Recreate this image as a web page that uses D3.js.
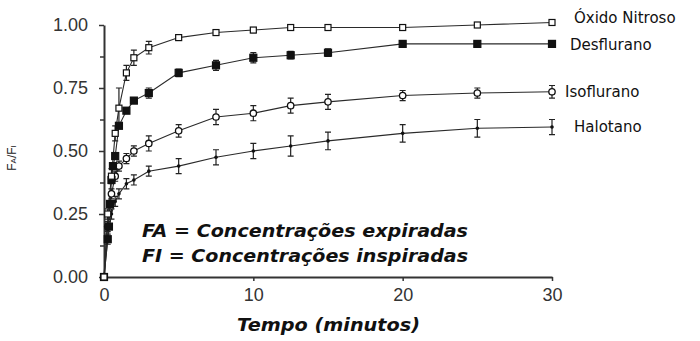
<!DOCTYPE html>
<html>
<head>
<meta charset="utf-8">
<script src="https://cdn.jsdelivr.net/npm/d3@7"></script>
<style>
  body { margin: 0; background: #fff; }
  svg { display: block; }
</style>
</head>
<body>
<div id="chart"></div>
<script>
// values (FA/FI against minutes)
let n2oTime = [0, 0.25, 0.5, 0.75, 1, 1.5, 2, 3, 5, 7.5, 10, 12.5, 15, 20, 25, 30]
let n2oValue = [0, 0.25, 0.4, 0.57, 0.67, 0.81, 0.87, 0.91, 0.95, 0.97, 0.98, 0.99, 0.99, 0.99, 1.0, 1.01]
let n2oErr = [0, 0.02, 0.03, 0.03, 0.08, 0.03, 0.03, 0.025, 0.01, 0.01, 0.01, 0.01, 0.01, 0.01, 0.01, 0.01]

let desTime = [0, 0.25, 0.33, 0.4, 0.5, 0.6, 0.75, 1, 1.5, 2, 3, 5, 7.5, 10, 12.5, 15, 20, 25, 30]
let desValue = [0, 0.15, 0.2, 0.29, 0.385, 0.44, 0.48, 0.6, 0.66, 0.7, 0.73, 0.81, 0.84, 0.87, 0.88, 0.89, 0.925, 0.925, 0.925]
let desErr = [0, 0.01, 0.01, 0.01, 0.01, 0.01, 0.01, 0.01, 0.01, 0.01, 0.02, 0.015, 0.02, 0.02, 0.015, 0.015, 0.01, 0.01, 0.01]

let isoTime = [0, 0.25, 0.5, 0.75, 1, 1.5, 2, 3, 5, 7.5, 10, 12.5, 15, 20, 25, 30]
let isoValue = [0, 0.2, 0.33, 0.4, 0.44, 0.47, 0.5, 0.53, 0.58, 0.635, 0.65, 0.68, 0.695, 0.72, 0.73, 0.735]
let isoErr = [0, 0.02, 0.02, 0.02, 0.02, 0.02, 0.02, 0.03, 0.025, 0.03, 0.03, 0.03, 0.03, 0.02, 0.02, 0.025]

let halTime = [0, 0.25, 0.5, 0.75, 1, 1.5, 2, 3, 5, 7.5, 10, 12.5, 15, 20, 25, 30]
let halValue = [0, 0.15, 0.25, 0.3, 0.33, 0.37, 0.385, 0.42, 0.44, 0.475, 0.5, 0.52, 0.54, 0.57, 0.59, 0.595]
let halErr = [0, 0.02, 0.02, 0.02, 0.02, 0.02, 0.02, 0.02, 0.03, 0.03, 0.03, 0.04, 0.035, 0.035, 0.035, 0.03]

let seriesNames = ['Halotano', 'Isoflurano', 'Desflurano', 'Óxido Nitroso']
let yTicks = [0, 0.25, 0.5, 0.75, 1]
let yMinorTicks = [0.125, 0.375, 0.625, 0.875]
let xTicks = [0, 10, 20, 30]

let width = 700
let height = 341

let svg = d3
  .select('#chart')
  .append('svg')
  .attr('width', width)
  .attr('height', height)

let x = d3.scaleLinear().domain([0, 30]).range([104, 552])
let y = d3.scaleLinear().domain([0, 1]).range([277, 25])

// series table built from the arrays above
let series = [
  { name: seriesNames[0], t: halTime, v: halValue, e: halErr, marker: 'dot', dx: 22, dy: 0 },
  { name: seriesNames[1], t: isoTime, v: isoValue, e: isoErr, marker: 'circle', dx: 13, dy: 0 },
  { name: seriesNames[2], t: desTime, v: desValue, e: desErr, marker: 'fsquare', dx: 18, dy: 1 },
  { name: seriesNames[3], t: n2oTime, v: n2oValue, e: n2oErr, marker: 'osquare', dx: 22, dy: -5 }
].map(s => {
  s.points = s.t.map((t, i) => ({ t: t, v: s.v[i], e: s.e[i] }))
  return s
})

// axes
svg
  .append('g')
  .attr('transform', `translate(${x(0)},0)`)
  .call(
    d3.axisLeft(y)
      .tickValues(yTicks)
      .tickFormat(d3.format('.2f'))
      .tickSize(5)
      .tickSizeOuter(0)
      .tickPadding(11)
  )

svg
  .append('g')
  .attr('transform', `translate(${x(0)},0)`)
  .call(d3.axisLeft(y).tickValues(yMinorTicks).tickFormat('').tickSize(4).tickSizeOuter(0))
  .select('.domain')
  .remove()

svg
  .append('g')
  .attr('transform', `translate(0,${y(0)})`)
  .call(
    d3.axisBottom(x)
      .tickValues(xTicks)
      .tickSize(4)
      .tickSizeOuter(0)
      .tickPadding(7)
  )

svg.selectAll('.domain').attr('stroke', '#333').attr('stroke-width', 2)
svg.selectAll('.tick line').attr('stroke', '#333').attr('stroke-width', 1.5)
svg
  .selectAll('.tick text')
  .attr('fill', '#333')
  .style('font-family', '"Liberation Sans", Arial, sans-serif')
  .style('font-size', '18px')

// lines
let line = d3
  .line()
  .x(d => x(d.t))
  .y(d => y(d.v))

svg
  .selectAll('.series-line')
  .data(series)
  .enter()
  .append('path')
  .attr('class', 'series-line')
  .attr('d', d => line(d.points))
  .attr('fill', 'none')
  .attr('stroke', '#2a2a2a')
  .attr('stroke-width', 1.1)

// error bars
series.forEach(s => {
  let g = svg.append('g').attr('class', 'errors')
  let pts = s.points.filter(d => d.e > 0)
  g.selectAll('.bar')
    .data(pts)
    .enter()
    .append('path')
    .attr('d', d => {
      let cx = x(d.t)
      let y1 = y(d.v + d.e)
      let y2 = y(d.v - d.e)
      return `M${cx},${y1}V${y2}M${cx - 3},${y1}H${cx + 3}M${cx - 3},${y2}H${cx + 3}`
    })
    .attr('fill', 'none')
    .attr('stroke', '#222')
    .attr('stroke-width', 1.2)
})

// markers
series.forEach(s => {
  let g = svg.append('g').attr('class', 'markers')
  if (s.marker === 'dot') {
    g.selectAll('circle')
      .data(s.points)
      .enter()
      .append('circle')
      .attr('cx', d => x(d.t))
      .attr('cy', d => y(d.v))
      .attr('r', 1.8)
      .attr('fill', '#111')
  } else if (s.marker === 'circle') {
    g.selectAll('circle')
      .data(s.points)
      .enter()
      .append('circle')
      .attr('cx', d => x(d.t))
      .attr('cy', d => y(d.v))
      .attr('r', 3.2)
      .attr('fill', '#fff')
      .attr('stroke', '#111')
      .attr('stroke-width', 1.3)
  } else {
    let filled = s.marker === 'fsquare'
    let size = filled ? 7 : 6
    g.selectAll('rect')
      .data(s.points)
      .enter()
      .append('rect')
      .attr('x', d => x(d.t) - size / 2)
      .attr('y', d => y(d.v) - size / 2)
      .attr('width', size)
      .attr('height', size)
      .attr('fill', filled ? '#111' : '#fff')
      .attr('stroke', '#111')
      .attr('stroke-width', 1.2)
  }
})

// series labels at the end of each line
svg
  .selectAll('.series-label')
  .data(series)
  .enter()
  .append('text')
  .attr('class', 'series-label')
  .attr('x', d => x(30) + d.dx)
  .attr('y', d => y(d.v[d.v.length - 1]) + d.dy)
  .attr('dy', '0.35em')
  .style('font-family', '"DejaVu Sans", Verdana, sans-serif')
  .style('font-size', '15px')
  .attr('fill', '#111')
  .text(d => d.name)

// y title FA/FI
let yTitle = svg
  .append('text')
  .attr('transform', 'translate(16,158) rotate(-90)')
  .attr('text-anchor', 'middle')
  .style('font-family', '"Liberation Sans", Arial, sans-serif')
  .attr('fill', '#222')
yTitle.append('tspan').style('font-size', '12px').text('F')
yTitle.append('tspan').style('font-size', '8px').text('A')
yTitle.append('tspan').style('font-size', '12px').text('/F')
yTitle.append('tspan').style('font-size', '8px').text('I')

// x title
svg
  .append('text')
  .attr('x', 237)
  .attr('y', 331)
  .attr('textLength', 183)
  .attr('lengthAdjust', 'spacingAndGlyphs')
  .style('font-family', '"DejaVu Sans", Verdana, sans-serif')
  .style('font-size', '18px')
  .style('font-weight', 'bold')
  .style('font-style', 'italic')
  .attr('fill', '#111')
  .text('Tempo (minutos)')

// annotation
let notes = ['FA = Concentrações expiradas', 'FI = Concentrações inspiradas']
let noteWidths = [326, 326]
svg
  .selectAll('.note')
  .data(notes)
  .enter()
  .append('text')
  .attr('class', 'note')
  .attr('x', 142)
  .attr('y', (d, i) => 237 + i * 25)
  .attr('textLength', (d, i) => noteWidths[i])
  .attr('lengthAdjust', 'spacingAndGlyphs')
  .style('font-family', '"DejaVu Sans", Verdana, sans-serif')
  .style('font-size', '18px')
  .style('font-weight', 'bold')
  .style('font-style', 'italic')
  .attr('fill', '#111')
  .text(d => d)
</script>
</body>
</html>
